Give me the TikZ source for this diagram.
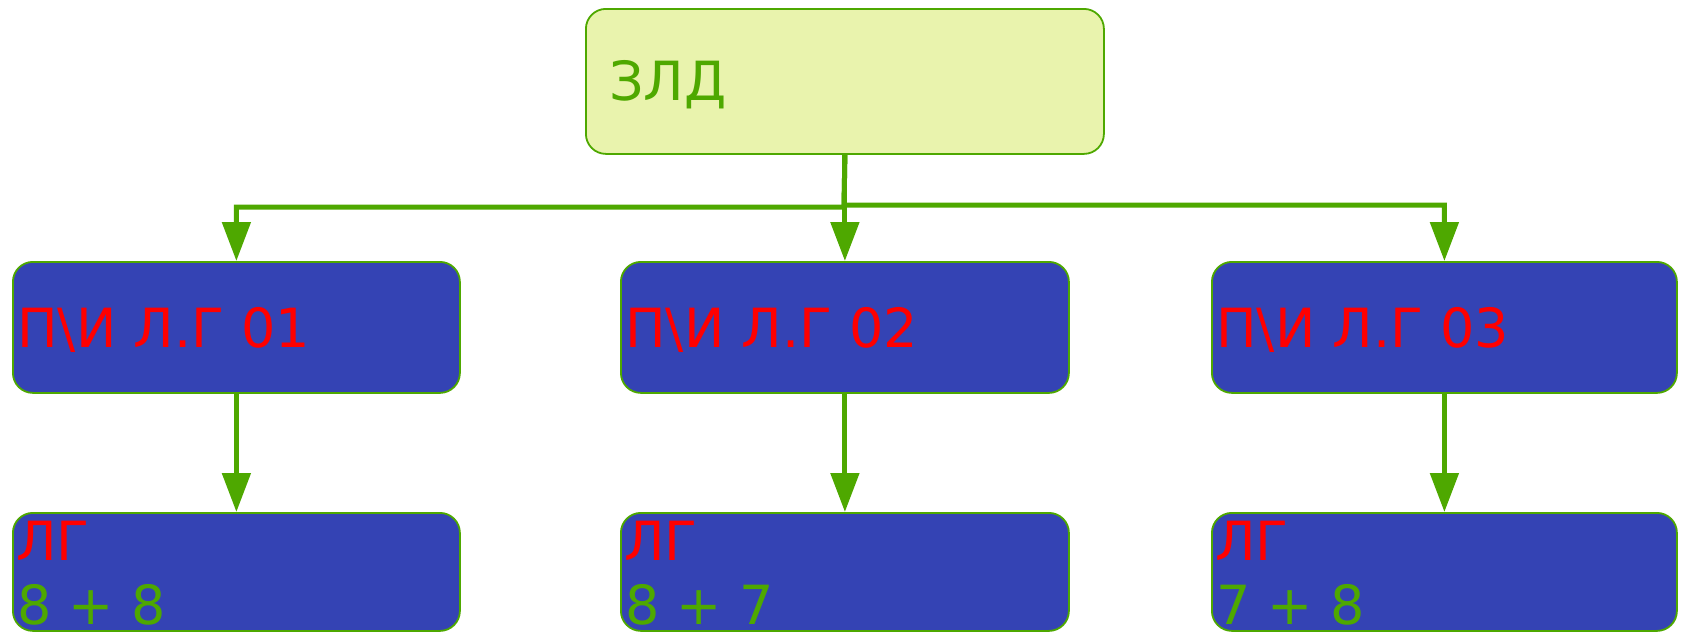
\documentclass[tikz,border=0pt]{standalone}
\usepackage{fontspec}
\setmainfont{DejaVu Sans}
\usetikzlibrary{arrows.meta}
\definecolor{lgreen}{HTML}{4EA800}
\definecolor{topfill}{HTML}{E9F3AD}
\definecolor{boxblue}{HTML}{3443B4}
\definecolor{txtred}{HTML}{FF0000}
\tikzset{
  box/.style={draw=lgreen, line width=1.8pt, rounded corners=20pt, inner sep=0pt, anchor=north west},
  topbox/.style={box, fill=topfill},
  bluebox/.style={box, fill=boxblue},
  lbl/.style={anchor=base west, inner sep=0pt, text depth=0pt, font=\fontsize{54}{64}\selectfont},
  conn/.style={draw=lgreen, line width=5pt, -{Triangle[width=28pt,length=39pt]}}
}
\begin{document}
\begin{tikzpicture}[x=1pt,y=-1pt]
\useasboundingbox (0,0) rectangle (1683,632);
% boxes
\node[topbox, minimum width=518pt, minimum height=145pt] (top) at (585,8) {};
\node[bluebox, minimum width=447pt, minimum height=131pt] (m1) at (12,261) {};
\node[bluebox, minimum width=448pt, minimum height=131pt] (m2) at (620,261) {};
\node[bluebox, minimum width=465pt, minimum height=131pt] (m3) at (1211,261) {};
\node[bluebox, minimum width=447pt, minimum height=118pt] (b1) at (12,512) {};
\node[bluebox, minimum width=448pt, minimum height=118pt] (b2) at (620,512) {};
\node[bluebox, minimum width=465pt, minimum height=118pt] (b3) at (1211,512) {};
% texts
\node[lbl, text=lgreen] (ttop) at (609,100) {ЗЛД};
\node[lbl, text=txtred] (tm1) at (17,347) {П\textbackslash И Л.Г 01};
\node[lbl, text=txtred] (tm2) at (625,347) {П\textbackslash И Л.Г 02};
\node[lbl, text=txtred] (tm3) at (1216,347) {П\textbackslash И Л.Г 03};
\node[lbl, text=txtred] (tb1a) at (16,560) {ЛГ};
\node[lbl, text=lgreen] (tb1b) at (17,624) {8 + 8};
\node[lbl, text=txtred] (tb2a) at (624,560) {ЛГ};
\node[lbl, text=lgreen] (tb2b) at (625,624) {8 + 7};
\node[lbl, text=txtred] (tb3a) at (1215,560) {ЛГ};
\node[lbl, text=lgreen] (tb3b) at (1216,624) {7 + 8};
% connectors
\coordinate (jl) at (844,207);
\coordinate (jr) at (844,205);
\draw[conn] (top.south) -- (m2.north);
\draw[conn] (top.south) -- (jl) -| (m1.north);
\draw[conn] (top.south) -- (jr) -| (m3.north);
\draw[conn] (m1.south) -- (b1.north);
\draw[conn] (m2.south) -- (b2.north);
\draw[conn] (m3.south) -- (b3.north);
\end{tikzpicture}
\end{document}
